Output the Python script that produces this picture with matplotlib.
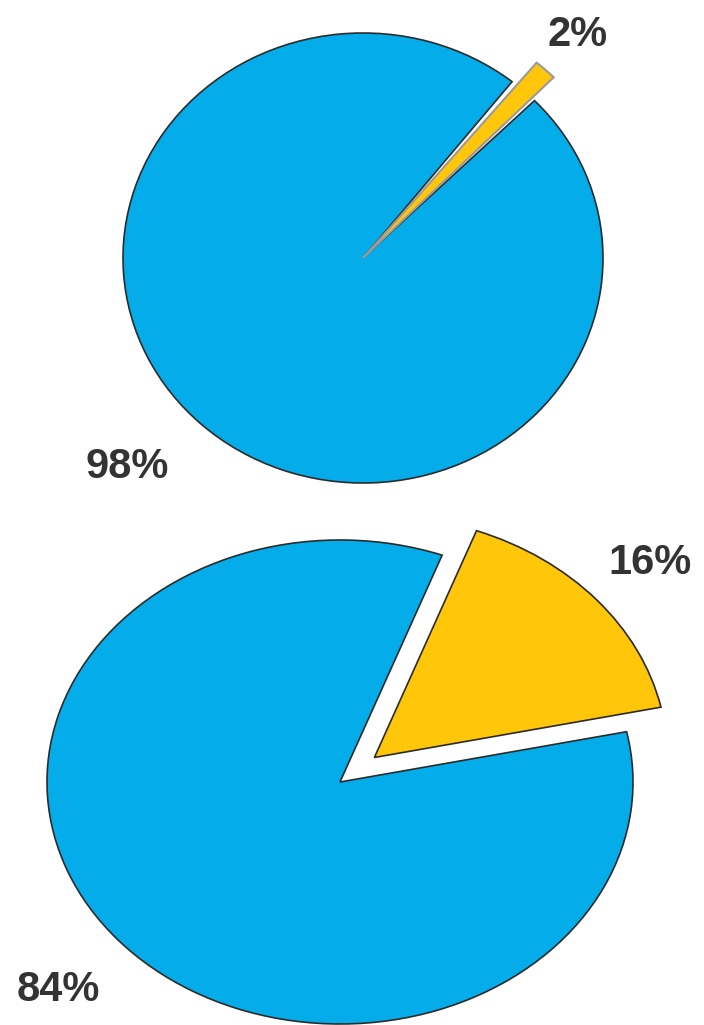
import matplotlib
matplotlib.use("Agg")
import matplotlib.pyplot as plt

# data
top_labels = ["2%", "98%"]
top_values = [2, 98]
bottom_labels = ["16%", "84%"]
bottom_values = [16, 84]

blue = "#04adea"
yellow = "#ffc60a"
edge = "#2b2b2b"

W, H = 704, 1025
fig = plt.figure(figsize=(W / 100, H / 100), dpi=100)


def place_axes(cx, cy, rx, ry, xlim, ylim):
    # axes positioned so one data unit = rx px across, ry px down
    left = cx + xlim[0] * rx
    width = (xlim[1] - xlim[0]) * rx
    bottom = H - (cy - ylim[0] * ry)
    height = (ylim[1] - ylim[0]) * ry
    ax = fig.add_axes([left / W, bottom / H, width / W, height / H])
    return ax


# top pie
ax1 = place_axes(363, 258, 240, 225, (-1.5, 1.4), (-1.1, 1.14))
w1, _ = ax1.pie(top_values, colors=[yellow, blue], startangle=44.4,
                wedgeprops=dict(edgecolor=edge, linewidth=1.2))
# the small slice is drawn a bit longer and slimmer, leaving a gap on its left
w1[0].set_radius(1.13)
w1[0].set_theta1(w1[0].theta1 + 0.9)
w1[0].set_theta2(w1[0].theta2 - 1.4)
w1[0].set_edgecolor("#9a9a9a")
w1[0].set_linewidth(1.5)
w1[0].set_zorder(3)
ax1.set_aspect("auto")
ax1.set_xlim(-1.5, 1.4)
ax1.set_ylim(-1.1, 1.14)
ax1.axis("off")

# bottom pie
ax2 = place_axes(340, 782, 293, 242, (-1.16, 1.24), (-1.0, 1.16))
w2, _ = ax2.pie(bottom_values, colors=[yellow, blue], startangle=12,
                explode=[0.155, 0],
                wedgeprops=dict(edgecolor=edge, linewidth=1.2))
ax2.set_aspect("auto")
ax2.set_xlim(-1.16, 1.24)
ax2.set_ylim(-1.0, 1.16)
ax2.axis("off")

txt = dict(fontsize=30, fontweight="bold", color="#333333",
           family="Liberation Sans", ha="center", va="center")
fig.text(578 / W, 1 - 35 / H, top_labels[0], **txt)
fig.text(127 / W, 1 - 467 / H, top_labels[1], **txt)
fig.text(650 / W, 1 - 563 / H, bottom_labels[0], **txt)
fig.text(58 / W, 1 - 990 / H, bottom_labels[1], **txt)

fig.savefig("out.png", dpi=100, facecolor="white")
